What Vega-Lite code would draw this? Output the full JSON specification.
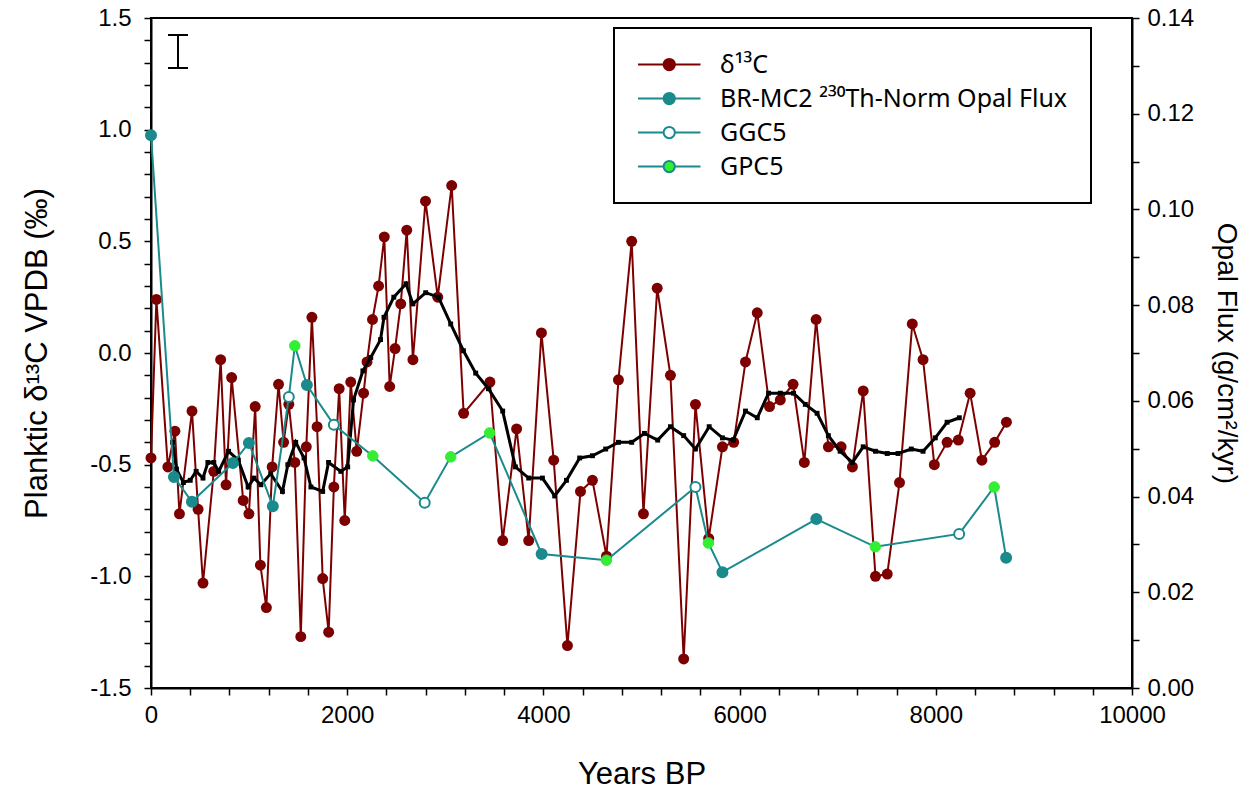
{
  "$schema": "https://vega.github.io/schema/vega-lite/v6.json",
  "width": 981,
  "height": 670,
  "autosize": {"type": "none"},
  "padding": {"left": 151, "top": 18, "right": 120, "bottom": 111},
  "background": "white",
  "config": {
    "font": "Liberation Sans",
    "view": {"stroke": "black", "strokeWidth": 2},
    "axis": {
      "domainColor": "black", "domainWidth": 2, "tickColor": "black", "tickWidth": 1.5, "tickSize": 7,
      "labelColor": "black", "labelFontSize": 24, "labelFont": "Liberation Sans", "labelFlush": false, "labelOverlap": false,
      "titleFontSize": 31, "titleFontWeight": "normal", "titleColor": "black", "titleFont": "Liberation Sans", "grid": false
    },
    "legend": {
      "strokeColor": "black", "strokeWidth": 2, "fillColor": "white", "padding": 23,
      "labelFont": "Noto Sans", "labelFontSize": 25, "labelColor": "black", "labelLimit": 600
    }
  },
  "datasets": {
    "d13c": [
      {"age": 0, "d13c": -0.47}, {"age": 55, "d13c": 0.24}, {"age": 172, "d13c": -0.51}, {"age": 244, "d13c": -0.35},
      {"age": 290, "d13c": -0.72}, {"age": 418, "d13c": -0.26}, {"age": 480, "d13c": -0.70}, {"age": 530, "d13c": -1.03},
      {"age": 640, "d13c": -0.53}, {"age": 710, "d13c": -0.03}, {"age": 765, "d13c": -0.59}, {"age": 822, "d13c": -0.11},
      {"age": 940, "d13c": -0.66}, {"age": 998, "d13c": -0.72}, {"age": 1062, "d13c": -0.24}, {"age": 1115, "d13c": -0.95},
      {"age": 1176, "d13c": -1.14}, {"age": 1235, "d13c": -0.51}, {"age": 1300, "d13c": -0.14}, {"age": 1352, "d13c": -0.40},
      {"age": 1405, "d13c": -0.23}, {"age": 1466, "d13c": -0.49}, {"age": 1527, "d13c": -1.27}, {"age": 1583, "d13c": -0.42},
      {"age": 1640, "d13c": 0.16}, {"age": 1693, "d13c": -0.33}, {"age": 1750, "d13c": -1.01}, {"age": 1811, "d13c": -1.25},
      {"age": 1864, "d13c": -0.60}, {"age": 1918, "d13c": -0.16}, {"age": 1975, "d13c": -0.75}, {"age": 2036, "d13c": -0.13},
      {"age": 2097, "d13c": -0.44}, {"age": 2167, "d13c": -0.18}, {"age": 2202, "d13c": -0.04}, {"age": 2258, "d13c": 0.15},
      {"age": 2320, "d13c": 0.30}, {"age": 2378, "d13c": 0.52}, {"age": 2433, "d13c": -0.15}, {"age": 2488, "d13c": 0.02},
      {"age": 2546, "d13c": 0.22}, {"age": 2607, "d13c": 0.55}, {"age": 2670, "d13c": -0.03}, {"age": 2798, "d13c": 0.68},
      {"age": 2923, "d13c": 0.25}, {"age": 3065, "d13c": 0.75}, {"age": 3187, "d13c": -0.27}, {"age": 3455, "d13c": -0.13},
      {"age": 3585, "d13c": -0.84}, {"age": 3727, "d13c": -0.34}, {"age": 3850, "d13c": -0.84}, {"age": 3980, "d13c": 0.09},
      {"age": 4105, "d13c": -0.48}, {"age": 4245, "d13c": -1.31}, {"age": 4378, "d13c": -0.62}, {"age": 4500, "d13c": -0.57},
      {"age": 4643, "d13c": -0.91}, {"age": 4765, "d13c": -0.12}, {"age": 4900, "d13c": 0.50}, {"age": 5020, "d13c": -0.72},
      {"age": 5160, "d13c": 0.29}, {"age": 5295, "d13c": -0.10}, {"age": 5430, "d13c": -1.37}, {"age": 5550, "d13c": -0.23},
      {"age": 5685, "d13c": -0.83}, {"age": 5825, "d13c": -0.42}, {"age": 5940, "d13c": -0.40}, {"age": 6060, "d13c": -0.04},
      {"age": 6180, "d13c": 0.18}, {"age": 6305, "d13c": -0.24}, {"age": 6415, "d13c": -0.21}, {"age": 6545, "d13c": -0.14},
      {"age": 6660, "d13c": -0.49}, {"age": 6780, "d13c": 0.15}, {"age": 6905, "d13c": -0.42}, {"age": 7035, "d13c": -0.42},
      {"age": 7150, "d13c": -0.51}, {"age": 7260, "d13c": -0.17}, {"age": 7385, "d13c": -1.00}, {"age": 7505, "d13c": -0.99},
      {"age": 7630, "d13c": -0.58}, {"age": 7760, "d13c": 0.13}, {"age": 7870, "d13c": -0.03}, {"age": 7985, "d13c": -0.50},
      {"age": 8115, "d13c": -0.40}, {"age": 8230, "d13c": -0.39}, {"age": 8350, "d13c": -0.18}, {"age": 8470, "d13c": -0.48},
      {"age": 8600, "d13c": -0.40}, {"age": 8720, "d13c": -0.31}
    ],
    "smooth": [
      {"age": 220, "mean": -0.40}, {"age": 260, "mean": -0.52}, {"age": 330, "mean": -0.58}, {"age": 400, "mean": -0.57},
      {"age": 460, "mean": -0.53}, {"age": 530, "mean": -0.56}, {"age": 580, "mean": -0.49}, {"age": 640, "mean": -0.49},
      {"age": 690, "mean": -0.53}, {"age": 790, "mean": -0.44}, {"age": 890, "mean": -0.48}, {"age": 990, "mean": -0.60},
      {"age": 1050, "mean": -0.56}, {"age": 1120, "mean": -0.59}, {"age": 1220, "mean": -0.54}, {"age": 1340, "mean": -0.62},
      {"age": 1395, "mean": -0.50}, {"age": 1475, "mean": -0.40}, {"age": 1560, "mean": -0.47}, {"age": 1630, "mean": -0.60},
      {"age": 1750, "mean": -0.62}, {"age": 1810, "mean": -0.49}, {"age": 1935, "mean": -0.53}, {"age": 2005, "mean": -0.51},
      {"age": 2065, "mean": -0.21}, {"age": 2160, "mean": -0.08}, {"age": 2240, "mean": -0.02}, {"age": 2340, "mean": 0.06},
      {"age": 2375, "mean": 0.16}, {"age": 2475, "mean": 0.25}, {"age": 2600, "mean": 0.31}, {"age": 2670, "mean": 0.22},
      {"age": 2800, "mean": 0.27}, {"age": 2930, "mean": 0.25}, {"age": 3055, "mean": 0.13}, {"age": 3185, "mean": 0.01},
      {"age": 3310, "mean": -0.09}, {"age": 3440, "mean": -0.16}, {"age": 3585, "mean": -0.26}, {"age": 3715, "mean": -0.51},
      {"age": 3850, "mean": -0.56}, {"age": 3990, "mean": -0.56}, {"age": 4115, "mean": -0.64}, {"age": 4235, "mean": -0.57},
      {"age": 4370, "mean": -0.47}, {"age": 4500, "mean": -0.46}, {"age": 4635, "mean": -0.43}, {"age": 4765, "mean": -0.40},
      {"age": 4900, "mean": -0.40}, {"age": 5030, "mean": -0.36}, {"age": 5165, "mean": -0.39}, {"age": 5295, "mean": -0.33},
      {"age": 5430, "mean": -0.37}, {"age": 5550, "mean": -0.43}, {"age": 5690, "mean": -0.33}, {"age": 5825, "mean": -0.38},
      {"age": 5935, "mean": -0.39}, {"age": 6060, "mean": -0.26}, {"age": 6180, "mean": -0.29}, {"age": 6295, "mean": -0.18},
      {"age": 6415, "mean": -0.18}, {"age": 6550, "mean": -0.18}, {"age": 6670, "mean": -0.23}, {"age": 6790, "mean": -0.27},
      {"age": 6905, "mean": -0.37}, {"age": 7025, "mean": -0.44}, {"age": 7150, "mean": -0.49}, {"age": 7260, "mean": -0.42},
      {"age": 7385, "mean": -0.44}, {"age": 7505, "mean": -0.45}, {"age": 7615, "mean": -0.45}, {"age": 7750, "mean": -0.43},
      {"age": 7870, "mean": -0.44}, {"age": 7995, "mean": -0.38}, {"age": 8115, "mean": -0.31}, {"age": 8240, "mean": -0.29}
    ],
    "opal": [
      {"age": 0, "opal": 0.1155, "series": "BR-MC2 ²³⁰Th-Norm Opal Flux"},
      {"age": 234, "opal": 0.0441, "series": "BR-MC2 ²³⁰Th-Norm Opal Flux"},
      {"age": 417, "opal": 0.0389, "series": "BR-MC2 ²³⁰Th-Norm Opal Flux"},
      {"age": 835, "opal": 0.0470, "series": "BR-MC2 ²³⁰Th-Norm Opal Flux"},
      {"age": 998, "opal": 0.0512, "series": "BR-MC2 ²³⁰Th-Norm Opal Flux"},
      {"age": 1242, "opal": 0.0380, "series": "BR-MC2 ²³⁰Th-Norm Opal Flux"},
      {"age": 1405, "opal": 0.0608, "series": "GGC5"},
      {"age": 1466, "opal": 0.0715, "series": "GPC5"},
      {"age": 1589, "opal": 0.0633, "series": "BR-MC2 ²³⁰Th-Norm Opal Flux"},
      {"age": 1864, "opal": 0.0550, "series": "GGC5"},
      {"age": 2261, "opal": 0.0485, "series": "GPC5"},
      {"age": 2790, "opal": 0.0387, "series": "GGC5"},
      {"age": 3055, "opal": 0.0483, "series": "GPC5"},
      {"age": 3452, "opal": 0.0533, "series": "GPC5"},
      {"age": 3982, "opal": 0.0280, "series": "BR-MC2 ²³⁰Th-Norm Opal Flux"},
      {"age": 4643, "opal": 0.0267, "series": "GPC5"},
      {"age": 5550, "opal": 0.0420, "series": "GGC5"},
      {"age": 5682, "opal": 0.0303, "series": "GPC5"},
      {"age": 5825, "opal": 0.0242, "series": "BR-MC2 ²³⁰Th-Norm Opal Flux"},
      {"age": 6782, "opal": 0.0353, "series": "BR-MC2 ²³⁰Th-Norm Opal Flux"},
      {"age": 7383, "opal": 0.0295, "series": "GPC5"},
      {"age": 8238, "opal": 0.0322, "series": "GGC5"},
      {"age": 8595, "opal": 0.0420, "series": "GPC5"},
      {"age": 8717, "opal": 0.0272, "series": "BR-MC2 ²³⁰Th-Norm Opal Flux"}
    ],
    "errbar": [{"age": 275, "lo": 1.276, "hi": 1.424}]
  },
  "layer": [
    {
      "layer": [
        {
          "data": {"name": "d13c"},
          "mark": {"type": "line", "color": "#7d0000", "strokeWidth": 2},
          "encoding": {
            "x": {"field": "age", "type": "quantitative", "scale": {"domain": [0, 10000], "nice": false},
              "axis": {"title": "Years BP", "tickCount": 100, "values": [0,400,800,1200,1600,2000,2400,2800,3200,3600,4000,4400,4800,5200,5600,6000,6400,6800,7200,7600,8000,8400,8800,9200,9600,10000],
                "format": "d", "labelExpr": "datum.value % 2000 === 0 ? datum.label : ''", "labelPadding": 8, "titlePadding": 32}},
            "y": {"field": "d13c", "type": "quantitative", "scale": {"domain": [-1.5, 1.5], "nice": false, "zero": false},
              "axis": {"title": "Planktic δ¹³C VPDB (‰)", "orient": "left", "tickCount": 100,
                "values": [-1.5,-1.4,-1.3,-1.2,-1.1,-1.0,-0.9,-0.8,-0.7,-0.6,-0.5,-0.4,-0.3,-0.2,-0.1,0,0.1,0.2,0.3,0.4,0.5,0.6,0.7,0.8,0.9,1.0,1.1,1.2,1.3,1.4,1.5],
                "labelExpr": "abs(datum.value*2 - round(datum.value*2)) < 0.01 ? replace(format(datum.value, '.1f'), '\u2212', '-') : ''",
                "labelPadding": 13, "titlePadding": 36}}
          }
        },
        {
          "data": {"name": "d13c"},
          "mark": {"type": "point", "filled": true, "color": "#7d0000", "size": 120, "opacity": 1},
          "encoding": {
            "x": {"field": "age", "type": "quantitative"},
            "y": {"field": "d13c", "type": "quantitative"}
          }
        },
        {
          "data": {"name": "smooth"},
          "mark": {"type": "line", "color": "black", "strokeWidth": 3},
          "encoding": {
            "x": {"field": "age", "type": "quantitative"},
            "y": {"field": "mean", "type": "quantitative"}
          }
        },
        {
          "data": {"name": "smooth"},
          "mark": {"type": "point", "shape": "square", "filled": true, "color": "black", "size": 24, "opacity": 1},
          "encoding": {
            "x": {"field": "age", "type": "quantitative"},
            "y": {"field": "mean", "type": "quantitative"}
          }
        },
        {
          "data": {"name": "errbar"},
          "mark": {"type": "rule", "color": "black", "strokeWidth": 2},
          "encoding": {
            "x": {"field": "age", "type": "quantitative"},
            "y": {"field": "lo", "type": "quantitative"},
            "y2": {"field": "hi"}
          }
        },
        {
          "data": {"name": "errbar"},
          "mark": {"type": "tick", "orient": "horizontal", "color": "black", "size": 20, "thickness": 2, "opacity": 1},
          "encoding": {
            "x": {"field": "age", "type": "quantitative"},
            "y": {"field": "lo", "type": "quantitative"}
          }
        },
        {
          "data": {"name": "errbar"},
          "mark": {"type": "tick", "orient": "horizontal", "color": "black", "size": 20, "thickness": 2, "opacity": 1},
          "encoding": {
            "x": {"field": "age", "type": "quantitative"},
            "y": {"field": "hi", "type": "quantitative"}
          }
        }
      ]
    },
    {
      "layer": [
        {
          "data": {"name": "opal"},
          "mark": {"type": "line", "color": "#1a8a8c", "strokeWidth": 2},
          "encoding": {
            "x": {"field": "age", "type": "quantitative"},
            "y": {"field": "opal", "type": "quantitative", "scale": {"domain": [0, 0.14], "nice": false},
              "axis": {"title": "Opal Flux (g/cm²/kyr)", "orient": "right", "tickCount": 100, "titleFontSize": 28,
                "values": [0,0.01,0.02,0.03,0.04,0.05,0.06,0.07,0.08,0.09,0.1,0.11,0.12,0.13,0.14],
                "labelExpr": "abs(datum.value*50 - round(datum.value*50)) < 0.01 ? format(datum.value, '.2f') : ''",
                "labelPadding": 8, "titlePadding": 18}}
          }
        },
        {
          "data": {"name": "opal"},
          "transform": [{"filter": "datum.series !== 'GPC5'"}],
          "mark": {"type": "point", "filled": true, "size": 100, "strokeWidth": 2, "opacity": 1},
          "encoding": {
            "x": {"field": "age", "type": "quantitative"},
            "y": {"field": "opal", "type": "quantitative"},
            "fill": {"field": "series", "type": "nominal",
              "scale": {"domain": ["δ¹³C", "BR-MC2 ²³⁰Th-Norm Opal Flux", "GGC5", "GPC5"], "range": ["#7d0000", "#1a8a8c", "#ffffff", "#33ee33"]},
              "legend": {"title": null, "orient": "none", "legendX": 463, "legendY": 10,
                "symbolType": "M-1,0H1.05M1.95,0H4M1.05,0A0.45,0.45,0,1,1,1.95,0A0.45,0.45,0,1,1,1.05,0",
                "symbolSize": 625, "symbolStrokeWidth": 2, "labelOffset": 56, "rowPadding": 7}},
            "stroke": {"field": "series", "type": "nominal",
              "scale": {"domain": ["δ¹³C", "BR-MC2 ²³⁰Th-Norm Opal Flux", "GGC5", "GPC5"], "range": ["#7d0000", "#1a8a8c", "#1a8a8c", "#1a8a8c"]},
              "legend": {"title": null, "orient": "none", "legendX": 463, "legendY": 10,
                "symbolType": "M-1,0H1.05M1.95,0H4M1.05,0A0.45,0.45,0,1,1,1.95,0A0.45,0.45,0,1,1,1.05,0",
                "symbolSize": 625, "symbolStrokeWidth": 2, "labelOffset": 56, "rowPadding": 7}}
          }
        },
        {
          "data": {"name": "opal"},
          "transform": [{"filter": "datum.series === 'GPC5'"}],
          "mark": {"type": "point", "filled": true, "size": 110, "stroke": "#33ee33", "strokeWidth": 1, "opacity": 1},
          "encoding": {
            "x": {"field": "age", "type": "quantitative"},
            "y": {"field": "opal", "type": "quantitative"},
            "fill": {"field": "series", "type": "nominal", "legend": null}
          }
        }
      ]
    }
  ],
  "resolve": {"scale": {"y": "independent"}}
}
